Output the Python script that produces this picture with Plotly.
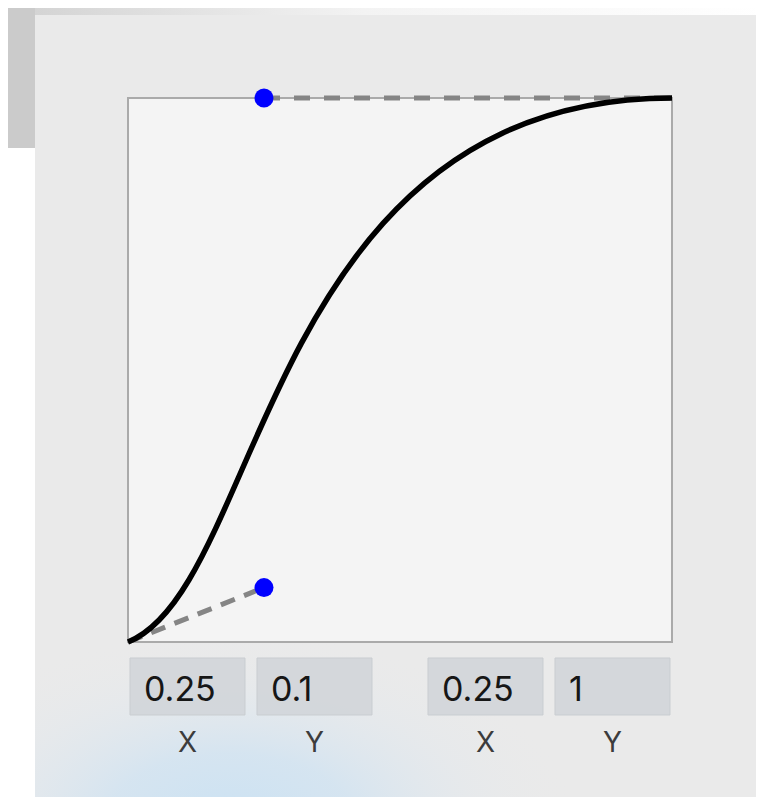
import plotly.graph_objects as go

# bezier handles (x, y)
p1 = [0.25, 0.1]
p2 = [0.25, 1.0]
start = [0.0, 0.0]
end = [1.0, 1.0]

# input fields under the chart
field_values = ["0.25", "0.1", "0.25", "1"]
field_labels = ["X", "Y", "X", "Y"]
field_left = [130, 257, 428, 555]

# page is drawn with an 8px body margin, so work in window pixels
OFF = 8
W, H = 764 - OFF, 797 - OFF
plot_l, plot_r, plot_t, plot_b = 128, 672, 98, 642
pad = 0.012
span = plot_r - plot_l

fig = go.Figure()

# background decoration on a full-page pixel axis (x/y)
fig.add_trace(go.Scatter(
    x=[35, 764, 764, 35, 35], y=[0, 0, 15, 15, 0],
    mode="lines", line=dict(width=0), fill="toself",
    fillgradient=dict(type="horizontal",
                      colorscale=[[0, "#d4d4d4"], [0.45, "#f3f3f3"], [1, "#ffffff"]]),
    hoverinfo="skip", showlegend=False, xaxis="x", yaxis="y",
))
# soft blue glow at the bottom left of the panel
fig.add_trace(go.Scatter(
    x=[-120, 580, 580, -120, -120], y=[630, 630, 1010, 1010, 630],
    mode="lines", line=dict(width=0), fill="toself",
    fillgradient=dict(type="radial",
                      colorscale=[[0, "rgba(203,226,243,1)"], [0.35, "rgba(208,227,242,0.8)"],
                                  [0.7, "rgba(222,231,239,0.3)"], [1, "rgba(234,234,234,0)"]]),
    hoverinfo="skip", showlegend=False, xaxis="x", yaxis="y",
))

# control handle lines
fig.add_trace(go.Scatter(
    x=[start[0], p1[0]], y=[start[1], p1[1]], mode="lines",
    line=dict(color="#858585", width=5, dash="15px,10px"),
    cliponaxis=False, hoverinfo="skip", showlegend=False, xaxis="x2", yaxis="y2",
))
fig.add_trace(go.Scatter(
    x=[p2[0], end[0]], y=[p2[1], end[1]], mode="lines",
    line=dict(color="#858585", width=5, dash="16px,14px"),
    cliponaxis=False, hoverinfo="skip", showlegend=False, xaxis="x2", yaxis="y2",
))
fig.add_trace(go.Scatter(
    x=[p1[0], p2[0]], y=[p1[1], p2[1]], mode="markers",
    marker=dict(color="#0000ff", size=19),
    cliponaxis=False, hoverinfo="skip", showlegend=False, xaxis="x2", yaxis="y2",
))

shapes = [
    dict(type="rect", xref="x", yref="y", x0=0, x1=35, y0=0, y1=148,
         fillcolor="#cbcbcb", line=dict(width=0), layer="below"),
    dict(type="rect", xref="x", yref="y", x0=35, x1=756, y0=15, y1=800,
         fillcolor="#eaeaea", line=dict(width=0), layer="below"),
    # keep the page white left of the panel
    dict(type="rect", xref="x", yref="y", x0=0, x1=35, y0=148, y1=800,
         fillcolor="#ffffff", line=dict(width=0)),
    dict(type="rect", xref="x2", yref="y2", x0=0, x1=1, y0=0, y1=1,
         fillcolor="#f4f4f4", line=dict(color="#aaaaaa", width=2), layer="below"),
    dict(type="path", xref="x2", yref="y2",
         path=f"M {start[0]},{start[1]} C {p1[0]},{p1[1]} {p2[0]},{p2[1]} {end[0]},{end[1]}",
         line=dict(color="#000000", width=5.5)),
]

annotations = []
for val, lab, left in zip(field_values, field_labels, field_left):
    shapes.append(dict(type="rect", xref="x", yref="y", x0=left, x1=left + 115, y0=658, y1=715,
                       fillcolor="rgba(208,212,216,0.85)", line=dict(color="#c9cdd1", width=1)))
    annotations.append(dict(x=left + 12, y=688, xref="x", yref="y", text=val, showarrow=False,
                            xanchor="left", yanchor="middle",
                            font=dict(family="Inter", size=34, color="#161616")))
    annotations.append(dict(x=left + 57.5, y=742, xref="x", yref="y", text=lab, showarrow=False,
                            xanchor="center", yanchor="middle",
                            font=dict(family="Inter", size=28, color="#3c3c3c")))

fig.update_layout(
    width=W, height=H,
    margin=dict(l=0, r=0, t=0, b=0),
    paper_bgcolor="#ffffff",
    plot_bgcolor="rgba(0,0,0,0)",
    shapes=shapes,
    annotations=annotations,
    xaxis=dict(domain=[0, 1], range=[OFF, OFF + W], visible=False, fixedrange=True),
    yaxis=dict(domain=[0, 1], range=[OFF + H, OFF], visible=False, fixedrange=True),
    xaxis2=dict(domain=[(plot_l - OFF - pad * span) / W, (plot_r - OFF + pad * span) / W],
                range=[-pad, 1 + pad], visible=False, anchor="y2", fixedrange=True),
    yaxis2=dict(domain=[1 - (plot_b - OFF + pad * span) / H, 1 - (plot_t - OFF - pad * span) / H],
                range=[-pad, 1 + pad], visible=False, anchor="x2", fixedrange=True),
    showlegend=False,
)

fig.write_html("out.html")
